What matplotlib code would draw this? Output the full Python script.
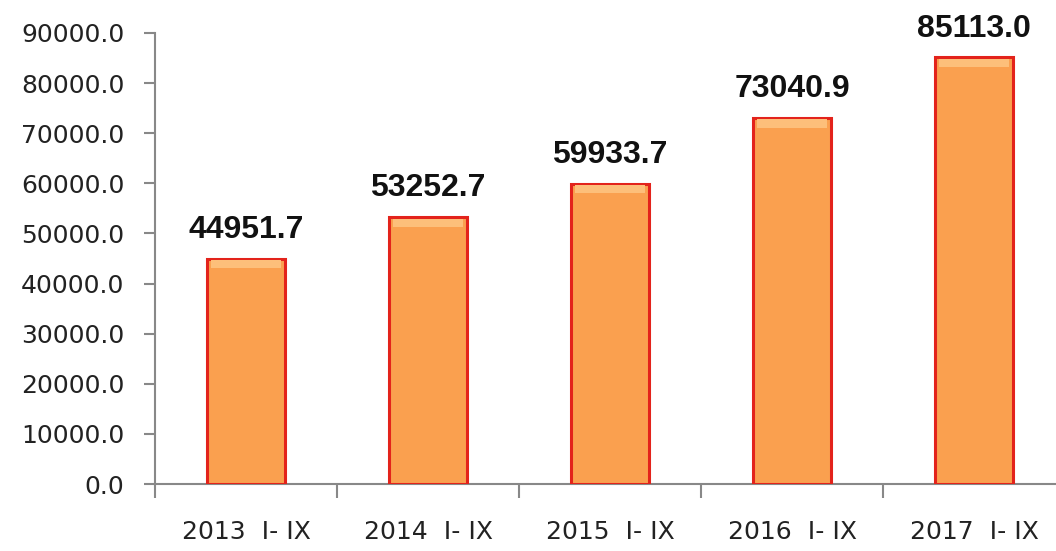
import numpy as np
import matplotlib.pyplot as plt

categories = ["2013  I- IX", "2014  I- IX", "2015  I- IX", "2016  I- IX", "2017  I- IX"]
values = [44951.7, 53252.7, 59933.7, 73040.9, 85113.0]

fig = plt.figure(figsize=(10.56, 5.51), dpi=100)
ax = fig.add_axes([155 / 1056, 67 / 551, 910 / 1056, 451 / 551])

x = np.arange(len(categories))
ax.bar(x, values, width=0.43, color="#FAA04F", edgecolor="#E3231B", linewidth=2.2, zorder=3)

# light band at top of each bar, like the bevel in the original
for xi, v in zip(x, values):
    ax.bar(xi, 1600, bottom=v - 1900, width=0.39, color="#FDBF7A", linewidth=0, zorder=4)
    ax.annotate(f"{v:.1f}", (xi, v), xytext=(0, 10), textcoords="offset points",
                ha="center", va="bottom", fontsize=23, fontweight="bold",
                family="Liberation Sans", color="#111111")

ax.set_xlim(-0.5, len(categories) - 0.5)
ax.set_ylim(0, 90000)
ax.set_yticks(np.arange(0, 90001, 10000))
ax.set_yticklabels([f"{t:.1f}" for t in np.arange(0, 90001, 10000)], fontsize=18, color="#222222")

ax.set_xticks(x)
ax.set_xticklabels(categories, fontsize=18, color="#222222")
ax.set_xticks(np.arange(-0.5, len(categories), 1.0), minor=True)
ax.tick_params(axis="x", which="major", length=0, pad=26)
ax.tick_params(axis="x", which="minor", length=10, width=1.5, color="#888888", direction="out")
ax.tick_params(axis="y", length=8, width=1.5, color="#888888", direction="out", pad=14)

for s in ["top", "right"]:
    ax.spines[s].set_visible(False)
for s in ["left", "bottom"]:
    ax.spines[s].set_color("#888888")
    ax.spines[s].set_linewidth(1.5)

fig.savefig("out.png", dpi=100)
